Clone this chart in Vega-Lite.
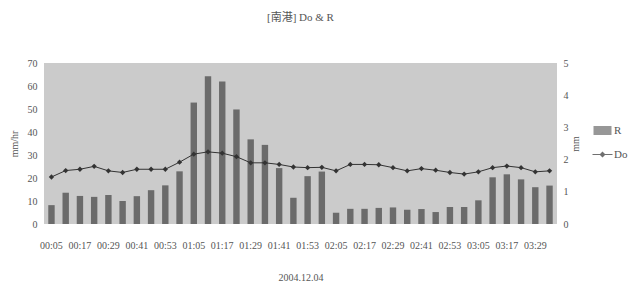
{
  "$schema": "https://vega.github.io/schema/vega-lite/v6.json",
  "width": 513,
  "height": 161,
  "autosize": {"type": "none"},
  "padding": {"left": 44, "top": 63, "right": 82, "bottom": 62},
  "background": "white",
  "view": {"fill": "#cbcbcb", "stroke": null},
  "config": {
    "view": {"fill": "#cbcbcb", "stroke": null},
    "font": "Liberation Serif",
    "axis": {
      "grid": false, "domain": false, "ticks": false,
      "labelColor": "#555", "titleColor": "#555",
      "labelFont": "Liberation Serif", "titleFont": "Liberation Serif",
      "titleFontWeight": "normal", "labelFontSize": 10, "titleFontSize": 10
    },
    "legend": {"labelFont": "Liberation Serif", "labelColor": "#555", "labelFontSize": 11}
  },
  "title": {
    "text": "[南港] Do & R",
    "font": "Liberation Serif, Noto Sans CJK TC",
    "fontSize": 11, "fontWeight": "normal", "color": "#555",
    "offset": 35, "anchor": "middle"
  },
  "datasets": {
    "obs": [
      {"time": "00:05", "R": 8.2, "Do": 1.46},
      {"time": "00:11", "R": 13.6, "Do": 1.66},
      {"time": "00:17", "R": 12.2, "Do": 1.70},
      {"time": "00:23", "R": 11.8, "Do": 1.79},
      {"time": "00:29", "R": 12.6, "Do": 1.65},
      {"time": "00:35", "R": 10.0, "Do": 1.60},
      {"time": "00:41", "R": 12.1, "Do": 1.70},
      {"time": "00:47", "R": 14.7, "Do": 1.70},
      {"time": "00:53", "R": 16.8, "Do": 1.70},
      {"time": "00:59", "R": 22.9, "Do": 1.92},
      {"time": "01:05", "R": 52.8, "Do": 2.17},
      {"time": "01:11", "R": 64.2, "Do": 2.24},
      {"time": "01:17", "R": 62.0, "Do": 2.20},
      {"time": "01:23", "R": 49.8, "Do": 2.09},
      {"time": "01:29", "R": 36.8, "Do": 1.90},
      {"time": "01:35", "R": 34.4, "Do": 1.90},
      {"time": "01:41", "R": 24.3, "Do": 1.85},
      {"time": "01:47", "R": 11.4, "Do": 1.77},
      {"time": "01:53", "R": 20.8, "Do": 1.75},
      {"time": "01:59", "R": 22.8, "Do": 1.76},
      {"time": "02:05", "R": 4.9, "Do": 1.65},
      {"time": "02:11", "R": 6.6, "Do": 1.85},
      {"time": "02:17", "R": 6.6, "Do": 1.85},
      {"time": "02:23", "R": 7.0, "Do": 1.84},
      {"time": "02:29", "R": 7.2, "Do": 1.75},
      {"time": "02:35", "R": 6.2, "Do": 1.65},
      {"time": "02:41", "R": 6.5, "Do": 1.72},
      {"time": "02:47", "R": 5.2, "Do": 1.67},
      {"time": "02:53", "R": 7.4, "Do": 1.60},
      {"time": "02:59", "R": 7.4, "Do": 1.55},
      {"time": "03:05", "R": 10.3, "Do": 1.62},
      {"time": "03:11", "R": 20.3, "Do": 1.75},
      {"time": "03:17", "R": 21.6, "Do": 1.80},
      {"time": "03:23", "R": 19.4, "Do": 1.75},
      {"time": "03:29", "R": 16.0, "Do": 1.62},
      {"time": "03:35", "R": 16.7, "Do": 1.65}
    ],
    "legendItems": [{"s": "R"}, {"s": "Do"}]
  },
  "layer": [
    {
      "data": {"name": "obs"},
      "mark": {"type": "bar", "color": "#6b6b6b"},
      "encoding": {
        "x": {
          "field": "time", "type": "ordinal", "sort": null,
          "scale": {"paddingInner": 0.55, "paddingOuter": 0.3},
          "axis": {
            "title": "2004.12.04", "labelAngle": 0, "labelPadding": 16, "titlePadding": 22,
            "values": ["00:05","00:17","00:29","00:41","00:53","01:05","01:17","01:29","01:41","01:53","02:05","02:17","02:29","02:41","02:53","03:05","03:17","03:29"]
          }
        },
        "y": {
          "field": "R", "type": "quantitative",
          "scale": {"domain": [0, 70]},
          "axis": {"title": "mm/hr", "values": [0,10,20,30,40,50,60,70], "labelPadding": 7, "titlePadding": 8}
        }
      }
    },
    {
      "data": {"name": "obs"},
      "mark": {"type": "line", "color": "#333", "strokeWidth": 1,
               "point": {"shape": "diamond", "filled": true, "size": 28, "color": "#333"}},
      "encoding": {
        "x": {"field": "time", "type": "ordinal", "sort": null},
        "y": {
          "field": "Do", "type": "quantitative",
          "scale": {"domain": [0, 5]},
          "axis": {"orient": "right", "title": "mm", "titleAngle": 270, "values": [0,1,2,3,4,5], "labelPadding": 6, "titlePadding": 12}
        }
      }
    },
    {
      "data": {"name": "legendItems"},
      "mark": {"type": "point", "filled": true, "size": 0},
      "encoding": {
        "color": {
          "field": "s", "type": "nominal",
          "scale": {"domain": ["R", "Do"], "range": ["#6b6b6b", "#333333"]},
          "legend": {
            "title": null, "orient": "none", "legendX": 553, "legendY": 62,
            "symbolSize": 100, "symbolStrokeWidth": 0, "rowPadding": 12, "labelOffset": 6
          }
        },
        "shape": {
          "field": "s", "type": "nominal",
          "scale": {"domain": ["R", "Do"], "range": [
            "M-1.8,-0.9L1.8,-0.9L1.8,0.9L-1.8,0.9Z",
            "M-2,-0.08L2,-0.08L2,0.08L-2,0.08ZM0,-0.6L0.6,0L0,0.6L-0.6,0Z"
          ]},
          "legend": null
        }
      }
    }
  ],
  "resolve": {"scale": {"y": "independent"}}
}
